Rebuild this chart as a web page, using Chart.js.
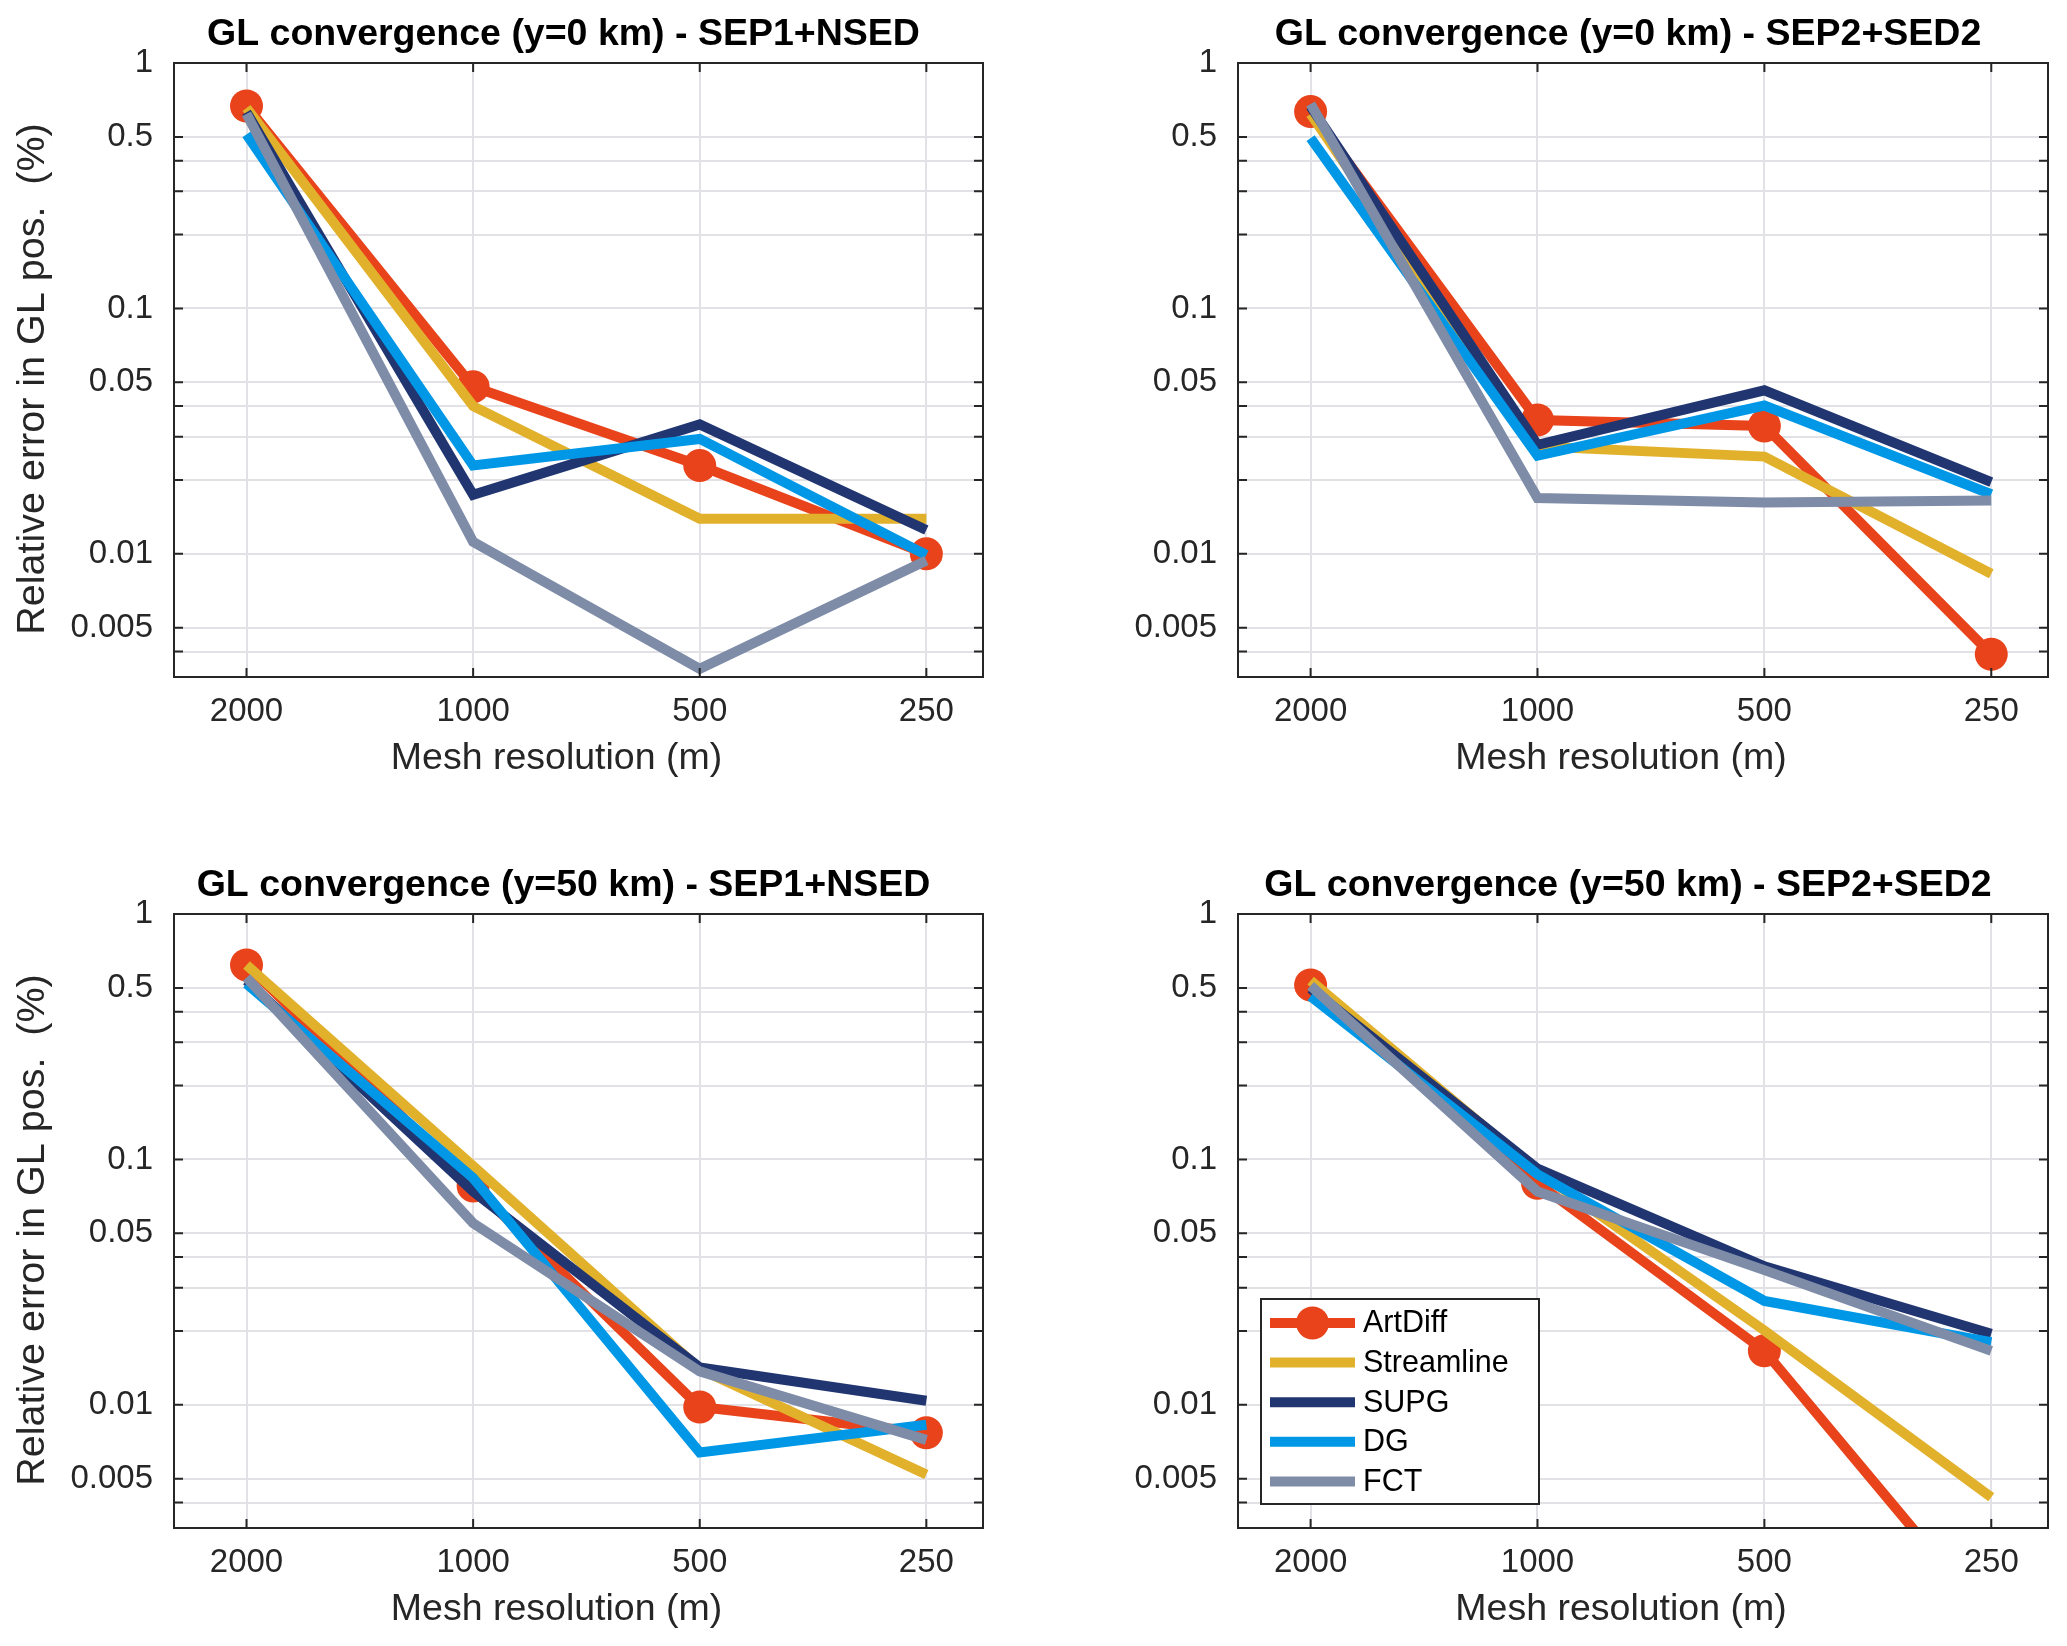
<!DOCTYPE html>
<html>
<head>
<meta charset="utf-8">
<script src="https://cdn.jsdelivr.net/npm/chart.js@4.4.1/dist/chart.umd.min.js"></script>
<style>
  html, body { margin: 0; padding: 0; background: #fff; overflow: hidden; width: 2067px; height: 1646px; }
  canvas { position: absolute; }
</style>
</head>
<body>
<canvas id="tl" width="1064" height="795" style="left:0;top:0"></canvas>
<canvas id="tr" width="1003" height="795" style="left:1064px;top:0"></canvas>
<canvas id="bl" width="1064" height="795" style="left:0;top:851px"></canvas>
<canvas id="br" width="1003" height="795" style="left:1064px;top:851px"></canvas>
<script>
const meshRes = ["2000", "1000", "500", "250"];
const xPos = [1, 2, 3, 4];
const seriesNames = ["ArtDiff", "Streamline", "SUPG", "DG", "FCT"];
const seriesColors = ["#e8431b", "#e2b12c", "#213571", "#0098e6", "#7e8ca8"];
const yGrid = [1, 0.5, 0.4, 0.3, 0.2, 0.1, 0.05, 0.04, 0.03, 0.02, 0.01, 0.005, 0.004];
const yLabeled = [1, 0.5, 0.1, 0.05, 0.01, 0.005];

// y=0 km, SEP1+NSED
const artDiff_y0_sep1 = [0.668, 0.048, 0.0229, 0.0100];
const stream_y0_sep1 = [0.656, 0.040, 0.0139, 0.0139];
const supg_y0_sep1 = [0.63, 0.0174, 0.0337, 0.0125];
const dg_y0_sep1 = [0.512, 0.0229, 0.0294, 0.0099];
const fct_y0_sep1 = [0.62, 0.0112, 0.0034, 0.0094];

// y=0 km, SEP2+SED2
const artDiff_y0_sep2 = [0.634, 0.0351, 0.0332, 0.0039];
const stream_y0_sep2 = [0.62, 0.0274, 0.0249, 0.0083];
const supg_y0_sep2 = [0.665, 0.0278, 0.0464, 0.0196];
const dg_y0_sep2 = [0.494, 0.0251, 0.0402, 0.0175];
const fct_y0_sep2 = [0.68, 0.0169, 0.0162, 0.0165];

// y=50 km, SEP1+NSED
const artDiff_y50_sep1 = [0.62, 0.078, 0.0098, 0.0077];
const stream_y50_sep1 = [0.62, 0.094, 0.0140, 0.0052];
const supg_y50_sep1 = [0.535, 0.074, 0.0142, 0.0104];
const dg_y50_sep1 = [0.52, 0.084, 0.0064, 0.0083];
const fct_y50_sep1 = [0.55, 0.055, 0.0137, 0.0072];

// y=50 km, SEP2+SED2
const artDiff_y50_sep2 = [0.514, 0.080, 0.0166, 0.0013];
const stream_y50_sep2 = [0.535, 0.0895, 0.0201, 0.0042];
const supg_y50_sep2 = [0.497, 0.0917, 0.0367, 0.0195];
const dg_y50_sep2 = [0.462, 0.087, 0.0265, 0.018];
const fct_y50_sep2 = [0.51, 0.074, 0.0354, 0.0166];

const fontFam = "'Liberation Sans', Arial, Helvetica, sans-serif";
const axisColor = "#262626";
const gridColor = "#e2e2e6";

// box, inward ticks, titles and (optionally) legend, MATLAB style
const frame = {
  id: "frame",
  afterDatasetsDraw(chart, args, opts) {
    const ctx = chart.ctx;
    const a = chart.chartArea;
    const x = chart.scales.x, y = chart.scales.y;
    const mid = (a.left + a.right) / 2;
    ctx.save();
    ctx.strokeStyle = axisColor;
    ctx.lineWidth = 2;
    ctx.beginPath();
    y.ticks.forEach(t => {
      const py = y.getPixelForValue(t.value);
      ctx.moveTo(a.left, py); ctx.lineTo(a.left + 9, py);
      ctx.moveTo(a.right, py); ctx.lineTo(a.right - 9, py);
    });
    x.ticks.forEach(t => {
      const px = x.getPixelForValue(t.value);
      ctx.moveTo(px, a.bottom); ctx.lineTo(px, a.bottom - 9);
      ctx.moveTo(px, a.top); ctx.lineTo(px, a.top + 9);
    });
    ctx.stroke();
    ctx.strokeRect(a.left, a.top, a.right - a.left, a.bottom - a.top);

    ctx.textAlign = "center";
    ctx.textBaseline = "middle";
    ctx.fillStyle = "#000";
    ctx.font = "bold 37.5px " + fontFam;
    ctx.fillText(opts.title, mid - 15, a.top - 28);

    ctx.fillStyle = axisColor;
    ctx.font = "37.5px " + fontFam;
    ctx.fillText("Mesh resolution (m)", mid - 22, a.bottom + 82);

    if (opts.yTitle) {
      ctx.save();
      ctx.translate(33, (a.top + a.bottom) / 2 + 9);
      ctx.rotate(-Math.PI / 2);
      ctx.font = "39.5px " + fontFam;
      ctx.fillText("Relative error in GL pos.  (%)", 0, 0);
      ctx.restore();
    }

    if (opts.legend) {
      const w = 278, h = 205;
      const lx = a.left + 23, ly = a.bottom - 24 - h;
      ctx.fillStyle = "#fff";
      ctx.fillRect(lx, ly, w, h);
      ctx.strokeStyle = axisColor;
      ctx.lineWidth = 2;
      ctx.strokeRect(lx, ly, w, h);
      ctx.font = "30.5px " + fontFam;
      ctx.textAlign = "left";
      chart.data.datasets.forEach((ds, i) => {
        const cy = ly + 24 + i * 39.6;
        ctx.strokeStyle = ds.borderColor;
        ctx.lineWidth = 10;
        ctx.lineCap = "butt";
        ctx.beginPath();
        ctx.moveTo(lx + 9, cy); ctx.lineTo(lx + 94, cy);
        ctx.stroke();
        if (ds.pointRadius > 0) {
          ctx.fillStyle = ds.borderColor;
          ctx.beginPath();
          ctx.arc(lx + 51.5, cy, ds.pointRadius, 0, Math.PI * 2);
          ctx.fill();
        }
        ctx.fillStyle = "#000";
        ctx.fillText(ds.label, lx + 102, cy + 1);
      });
    }
    ctx.restore();
  }
};

function makePanel(id, title, series, opts) {
  const datasets = series.map((vals, i) => ({
    label: seriesNames[i],
    data: vals.map((v, j) => ({ x: xPos[j], y: v })),
    borderColor: seriesColors[i],
    backgroundColor: seriesColors[i],
    borderWidth: 10,
    borderCapStyle: "butt",
    borderJoinStyle: "miter",
    pointRadius: i === 0 ? 16.5 : 0,
    pointBorderWidth: 0,
    pointBackgroundColor: seriesColors[i],
    tension: 0,
    clip: 1,
    order: series.length - i,
  }));

  return new Chart(document.getElementById(id), {
    type: "line",
    data: { datasets: datasets },
    options: {
      responsive: false,
      animation: false,
      devicePixelRatio: 1,
      layout: { padding: { top: 63, right: opts.rightPad, bottom: 15, left: 0 } },
      plugins: {
        legend: { display: false },
        title: { display: false },
        tooltip: { enabled: false },
        frame: { title: title, legend: opts.legend, yTitle: opts.yTitle },
      },
      scales: {
        x: {
          type: "linear",
          min: 0.68,
          max: 4.25,
          bounds: "data",
          afterBuildTicks: s => { s.ticks = xPos.map(v => ({ value: v })); },
          afterFit: s => { s.height = 103; },
          grid: { color: gridColor, lineWidth: 2, drawTicks: false },
          border: { display: false },
          ticks: {
            autoSkip: false,
            maxRotation: 0,
            padding: 15,
            color: axisColor,
            font: { family: fontFam, size: 33 },
            callback: v => meshRes[xPos.indexOf(v)],
          },
        },
        y: {
          type: "logarithmic",
          min: 0.00315,
          max: 1,
          bounds: "data",
          afterBuildTicks: s => { s.ticks = yGrid.map(v => ({ value: v })); },
          afterFit: s => { s.width = 174; },
          grid: { color: gridColor, lineWidth: 2, drawTicks: false },
          border: { display: false },
          ticks: {
            autoSkip: false,
            padding: 21,
            color: axisColor,
            font: { family: fontFam, size: 33 },
            callback: v => (yLabeled.includes(v) ? String(v) : ""),
          },
        },
      },
    },
    plugins: [frame],
  });
}

makePanel("tl", "GL convergence (y=0 km) - SEP1+NSED",
  [artDiff_y0_sep1, stream_y0_sep1, supg_y0_sep1, dg_y0_sep1, fct_y0_sep1],
  { rightPad: 81, yTitle: true, legend: false });
makePanel("tr", "GL convergence (y=0 km) - SEP2+SED2",
  [artDiff_y0_sep2, stream_y0_sep2, supg_y0_sep2, dg_y0_sep2, fct_y0_sep2],
  { rightPad: 19, yTitle: false, legend: false });
makePanel("bl", "GL convergence (y=50 km) - SEP1+NSED",
  [artDiff_y50_sep1, stream_y50_sep1, supg_y50_sep1, dg_y50_sep1, fct_y50_sep1],
  { rightPad: 81, yTitle: true, legend: false });
makePanel("br", "GL convergence (y=50 km) - SEP2+SED2",
  [artDiff_y50_sep2, stream_y50_sep2, supg_y50_sep2, dg_y50_sep2, fct_y50_sep2],
  { rightPad: 19, yTitle: false, legend: true });
</script>
</body>
</html>
